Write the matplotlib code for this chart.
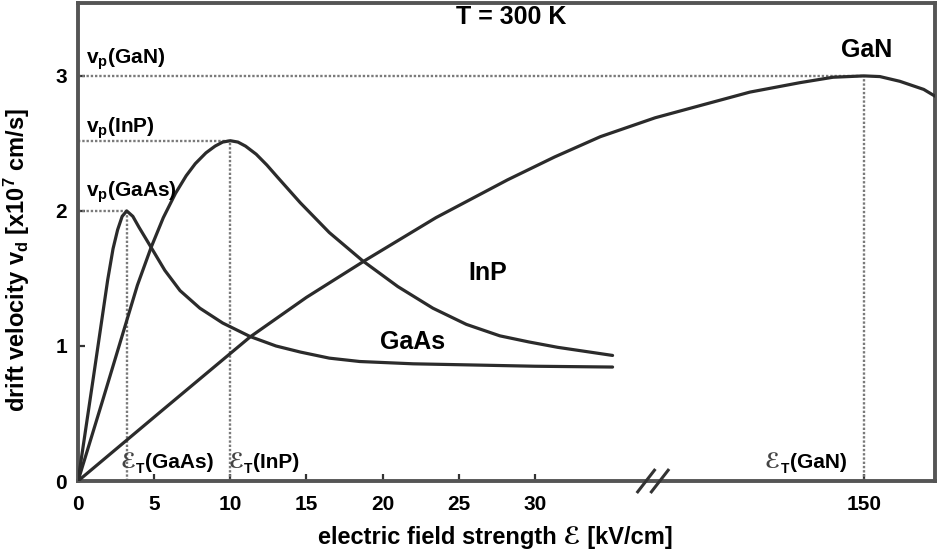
import numpy as np
import matplotlib
matplotlib.use("Agg")
import matplotlib.pyplot as plt

plt.rcParams['font.family'] = ['Liberation Sans', 'STIXGeneral', 'DejaVu Sans']
plt.rcParams['font.weight'] = 'bold'
plt.rcParams['mathtext.fontset'] = 'custom'
plt.rcParams['mathtext.rm'] = 'Liberation Sans:bold'
plt.rcParams['mathtext.bf'] = 'Liberation Sans:bold'
plt.rcParams['mathtext.it'] = 'Liberation Sans:bold:italic'

# ---- data (field in kV/cm, velocity in 1e7 cm/s) ----
gaas_E = [0, 1.0, 1.95, 2.3, 2.6, 2.9, 3.2, 3.6, 4.0, 4.8, 5.7, 6.7, 8.0, 9.5, 11.3, 13.0,
          14.6, 16.5, 18.5, 22.0, 25.6, 30.0, 35.1]
gaas_v = [0, 0.76, 1.49, 1.72, 1.86, 1.96, 2.0, 1.96, 1.88, 1.73, 1.56, 1.41, 1.28, 1.17,
          1.07, 1.0, 0.955, 0.91, 0.885, 0.868, 0.86, 0.85, 0.844]

inp_E = [0, 1.6, 3.9, 4.8, 5.6, 6.4, 7.1, 7.7, 8.4, 9.0, 9.5, 10.0, 10.5, 11.0, 11.7, 12.4,
         13.1, 14.6, 16.5, 18.7, 21.0, 23.3, 25.5, 27.7, 29.6, 31.5, 33.3, 35.1]
inp_v = [0, 0.59, 1.45, 1.73, 1.95, 2.13, 2.26, 2.35, 2.43, 2.48, 2.51, 2.52, 2.51, 2.48, 2.42,
         2.34, 2.25, 2.06, 1.84, 1.63, 1.44, 1.28, 1.16, 1.075, 1.03, 0.99, 0.96, 0.93]

gan_E = [0, 5.6, 11.3, 15.0, 18.9, 23.5, 28.2, 31.3, 34.3, 37.9, 61.4, 88.4, 115.5, 133.3,
         150.0, 158.7, 169.5, 182.4, 188.5]
gan_v = [0, 0.53, 1.067, 1.36, 1.637, 1.95, 2.23, 2.40, 2.55, 2.69, 2.78, 2.88, 2.95, 2.99,
         3.0, 2.995, 2.96, 2.90, 2.85]

peak_E = {'GaAs': 3.2, 'InP': 10.0, 'GaN': 150.0}
peak_v = {'GaAs': 2.0, 'InP': 2.52, 'GaN': 3.0}

xticks = [0, 5, 10, 15, 20, 25, 30, 150]
yticks = [0, 1, 2, 3]

# ---- broken x axis scale ----
BREAK = 38.0
K = 0.1214
X_MAX = 188.5
Y_MAX = 3.54


def fwd(x):
    x = np.asarray(x, dtype=float)
    return np.where(x <= BREAK, x, BREAK + (x - BREAK) * K)


def inv(u):
    u = np.asarray(u, dtype=float)
    return np.where(u <= BREAK, u, BREAK + (u - BREAK) / K)


fig = plt.figure(figsize=(9.41, 5.51), dpi=100)
ax = fig.add_axes([0.0829, 0.127, 0.9107, 0.8676])
ax.set_xscale('function', functions=(fwd, inv))
ax.set_xlim(0, X_MAX)
ax.set_ylim(0, Y_MAX)

lc = '#2b2b2b'
dc = '#7a7a7a'
for E, v in [(gaas_E, gaas_v), (inp_E, inp_v), (gan_E, gan_v)]:
    ax.plot(E, v, color=lc, lw=2.3, solid_capstyle='round', solid_joinstyle='round', zorder=3)

for m in ['GaAs', 'InP', 'GaN']:
    ax.plot([0, peak_E[m]], [peak_v[m], peak_v[m]], color=dc, lw=1.7, ls=(0, (1, 0.8)), zorder=2)
    ax.plot([peak_E[m], peak_E[m]], [0, peak_v[m]], color=dc, lw=1.7, ls=(0, (1, 0.8)), zorder=2)

for s in ax.spines.values():
    s.set_color('#555555')
    s.set_linewidth(2.8)

ax.set_xticks(xticks)
ax.set_xticklabels([str(t) for t in xticks])
ax.set_yticks(yticks)
ax.set_yticklabels([str(t) for t in yticks])
ax.tick_params(direction='in', length=5, width=1.6, color='#333333', labelsize=15)
ax.tick_params(axis='x', pad=10)
ax.tick_params(axis='y', pad=8)
ax.minorticks_off()
for lab in ax.get_xticklabels() + ax.get_yticklabels():
    lab.set_fontweight('bold')

# break marks
for d in (-0.7, 0.2):
    ax.plot([inv(BREAK + d - 0.55), inv(BREAK + d + 0.55)], [-0.08, 0.08],
            color='#333333', lw=2.2, clip_on=False, zorder=5)

fs = 15
ax.text(0.505, 0.97, 'T = 300 K', transform=ax.transAxes, ha='center', va='center',
        fontsize=18, fontweight='bold')
ax.text(0.5, 3.12, r'v$_\mathrm{p}$(GaN)', fontsize=fs, ha='left', va='center')
ax.text(0.5, 2.61, r'v$_\mathrm{p}$(InP)', fontsize=fs, ha='left', va='center')
ax.text(0.5, 2.14, r'v$_\mathrm{p}$(GaAs)', fontsize=fs, ha='left', va='center')
ax.text(151.7, 3.19, 'GaN', fontsize=18, ha='center', va='center')
ax.text(26.9, 1.54, 'InP', fontsize=18, ha='center', va='center')
ax.text(22.0, 1.03, 'GaAs', fontsize=18, ha='center', va='center')
for xpos, name in [(2.76, 'GaAs'), (9.85, 'InP'), (96.5, 'GaN')]:
    t1 = ax.text(xpos, 0.10, 'ℰ', fontsize=fs, ha='left', va='baseline', color='#444444')
    t2 = ax.annotate('T', xy=(1, 0), xycoords=t1, xytext=(0.5, -3),
                     textcoords='offset points', fontsize=10, ha='left', va='bottom')
    ax.annotate('(' + name + ')', xy=(1, 0), xycoords=t2, xytext=(0.5, 3),
                textcoords='offset points', fontsize=fs, ha='left', va='bottom')

ax.set_xlabel('electric field strength ℰ [kV/cm]', fontsize=17, fontweight='bold')
ax.set_ylabel(r'drift velocity v$_\mathrm{d}$ [x10$^\mathrm{7}$ cm/s]', fontsize=17,
              fontweight='bold')
ax.xaxis.set_label_coords(0.487, -0.094)
ax.yaxis.set_label_coords(-0.054, 0.462)

fig.savefig('out.png', dpi=100)
